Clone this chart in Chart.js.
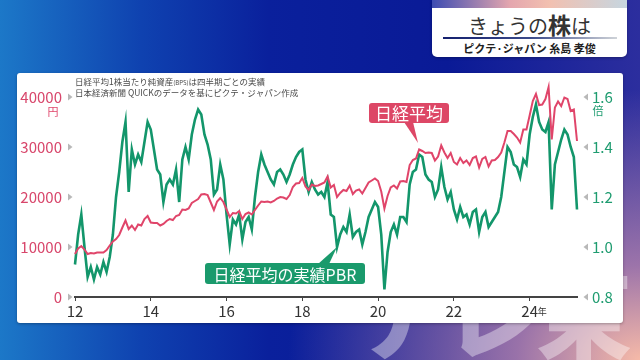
<!DOCTYPE html>
<html lang="ja">
<head>
<meta charset="UTF-8">
<title>きょうの株は - 日経平均と実績PBR</title>
<script src="https://cdn.jsdelivr.net/npm/chart.js"></script>
<style>
  html, body { margin: 0; padding: 0; }
  body {
    width: 640px; height: 360px; overflow: hidden; position: relative;
    font-family: 'Noto Sans CJK JP', 'Noto Sans', sans-serif;
    background:
      radial-gradient(ellipse 55% 75% at 100% 100%, rgba(246,186,168,1) 0%, rgba(176,128,172,0.85) 35%, rgba(60,50,160,0) 100%),
      linear-gradient(90deg, #1c78c8 0%, #0f42b0 22%, #0a209c 42%, #0a1a96 70%, #2c2e9e 100%);
  }
  .mark {
    position: absolute; left: 352px; top: 262px;
    font-size: 96px; font-weight: 900; line-height: 1; letter-spacing: -4px;
    color: rgba(255,255,255,0.38);
  }
  .panel {
    position: absolute; left: 17px; top: 73px; width: 606px; height: 250px;
    background: #fff; border-radius: 3px; box-shadow: 0 1px 3px rgba(0,0,0,0.3);
  }
  .title {
    position: absolute; left: 432px; top: 0; width: 195px; height: 57px;
    background: #fff; border-radius: 0 0 5px 5px; overflow: hidden;
    box-shadow: 0 1px 3px rgba(0,0,0,0.3);
  }
  .title .strip {
    height: 8px;
    background: linear-gradient(90deg, #3d4cb2 0%, #e4a6ae 40%, #f2c0b0 60%, #c6d6e0 100%);
  }
  .title .main {
    position: absolute; top: 11px; width: 100%; text-align: center;
    font-size: 20px; line-height: 26px; color: #333;
  }
  .title .main b { font-size: 23px; }
  .title .rule {
    position: absolute; top: 37px; left: 11px; width: 174px; height: 2px;
    background: linear-gradient(90deg, #14206e 0%, #3a4a8a 50%, #cfd3d8 100%);
  }
  .title .sub {
    position: absolute; top: 40px; width: 100%; text-align: center;
    font-size: 11px; font-weight: 700; line-height: 16px; color: #222;
  }
</style>
</head>
<body>
  <div class="mark">テレ東</div>
  <div class="title">
    <div class="strip"></div>
    <div class="main">きょうの<b>株</b>は</div>
    <div class="rule"></div>
    <div class="sub">ピクテ·ジャパン 糸島 孝俊</div>
  </div>
  <div class="panel">
    <canvas id="chart"></canvas>
  </div>

<script>
// 月次 2012年1月〜2025年4月
const startYear = 2012;
const monthCount = 160;

// 日経平均（円）
const nikkei = [
  8600, 9700, 10200, 9500, 8600, 8800, 8700, 8900, 8900, 8900, 9400, 10300,
  11100, 11600, 12400, 13900, 15300, 13600, 14300, 13400, 14500, 14300, 15600, 16200,
  14900, 14800, 14800, 14300, 14600, 15200, 15600, 15400, 16200, 16400, 17500, 17400,
  17700, 18800, 19200, 19600, 20500, 20600, 20400, 18900, 17400, 19100, 19800, 19000,
  17500, 16000, 16800, 16700, 17200, 15600, 16600, 16900, 16500, 17400, 18300, 19100,
  19000, 19100, 18900, 19200, 19700, 20000, 19900, 19600, 20400, 22000, 22700, 22800,
  23800, 22100, 21400, 22500, 22200, 22300, 22600, 22900, 24100, 21900, 22400, 20000,
  20800, 21400, 21200, 22300, 20600, 21300, 21500, 20700, 21800, 22900, 23300, 23700,
  23200, 21100, 17700, 20200, 21900, 22300, 21700, 23100, 23200, 23000, 26400, 27400,
  27700, 29500, 29200, 28800, 28900, 28800, 27300, 28100, 30300, 28900, 27800, 28800,
  27000, 26500, 27800, 26800, 27300, 26400, 27800, 28100, 25900, 27600, 28000, 26100,
  27300, 27400, 28000, 28900, 30900, 33200, 33200, 32600, 31900, 30900, 33500, 33500,
  36300, 39200, 40600, 38400, 38500, 39600, 42000, 31500, 37900, 39100, 38200, 39900,
  39600, 37200, 37500, 31200
];

// 日経平均の実績PBR（倍）
const pbr = [
  0.93, 1.05, 1.13, 1.00, 0.88, 0.92, 0.87, 0.92, 0.89, 0.94, 0.90, 0.96,
  1.05, 1.20, 1.30, 1.42, 1.50, 1.22, 1.39, 1.33, 1.37, 1.34, 1.42, 1.50,
  1.47, 1.39, 1.31, 1.29, 1.18, 1.25, 1.27, 1.25, 1.31, 1.18, 1.35, 1.40,
  1.35, 1.45, 1.51, 1.55, 1.53, 1.45, 1.41, 1.35, 1.21, 1.23, 1.33, 1.27,
  1.13, 1.01, 1.11, 1.09, 1.13, 1.03, 1.10, 1.12, 1.07, 1.20, 1.30, 1.37,
  1.33, 1.30, 1.27, 1.25, 1.30, 1.31, 1.29, 1.26, 1.29, 1.33, 1.36, 1.38,
  1.39, 1.27, 1.22, 1.26, 1.23, 1.21, 1.22, 1.20, 1.26, 1.13, 1.12, 1.00,
  1.05, 1.08, 1.06, 1.13, 1.04, 1.06, 1.07, 1.01, 1.06, 1.12, 1.15, 1.18,
  1.16, 1.05, 0.83, 0.98, 1.06, 1.09, 1.05, 1.12, 1.12, 1.10, 1.25, 1.30,
  1.31, 1.37, 1.36, 1.29, 1.27, 1.26, 1.20, 1.23, 1.32, 1.24, 1.19, 1.22,
  1.15, 1.11, 1.16, 1.12, 1.13, 1.09, 1.14, 1.15, 1.06, 1.12, 1.14, 1.08,
  1.10, 1.12, 1.14, 1.20, 1.30, 1.40, 1.38, 1.33, 1.32, 1.28, 1.35, 1.33,
  1.45, 1.52, 1.57, 1.50, 1.47, 1.46, 1.50, 1.15, 1.33, 1.38, 1.43, 1.47,
  1.45, 1.40, 1.36, 1.15
];

const tickYears = ['2012', '2014', '2016', '2018', '2020', '2022', '2024'];
const tickLabels = ['12', '14', '16', '18', '20', '22', '24'];
const yenTicks = [0, 10000, 20000, 30000, 40000];
const pbrTicks = [0.8, 1.0, 1.2, 1.4, 1.6];

const months = [];
for (let i = 0; i < monthCount; i++) {
  const y = startYear + Math.floor(i / 12);
  const m = (i % 12) + 1;
  months.push(y + '-' + String(m).padStart(2, '0'));
}

const RED = '#e0456a';
const GREEN = '#13966b';
const FONT = "'Noto Sans CJK JP', 'Noto Sans', sans-serif";
Chart.defaults.font.family = FONT;

function roundRect(ctx, x, y, w, h, r) {
  ctx.beginPath();
  ctx.moveTo(x + r, y);
  ctx.arcTo(x + w, y, x + w, y + h, r);
  ctx.arcTo(x + w, y + h, x, y + h, r);
  ctx.arcTo(x, y + h, x, y, r);
  ctx.arcTo(x, y, x + w, y, r);
  ctx.closePath();
}

function callout(ctx, box, baseY, baseX1, baseX2, tip, color, text, size) {
  ctx.fillStyle = color;
  roundRect(ctx, box.x, box.y, box.w, box.h, 3);
  ctx.fill();
  ctx.beginPath();
  ctx.moveTo(baseX1, baseY);
  ctx.lineTo(tip.x, tip.y);
  ctx.lineTo(baseX2, baseY);
  ctx.closePath();
  ctx.fill();
  ctx.fillStyle = '#fff';
  ctx.font = size + 'px ' + FONT;
  ctx.textAlign = 'center';
  ctx.textBaseline = 'middle';
  ctx.fillText(text, box.x + box.w / 2, box.y + box.h / 2 + 1);
}

const decor = {
  id: 'decor',
  afterDraw(chart) {
    const ctx = chart.ctx;
    const area = chart.chartArea;
    const yl = chart.scales.y;
    const yr = chart.scales.y2;
    const xs = chart.scales.x;
    ctx.save();

    // 目盛りの小さな三角
    ctx.fillStyle = '#b8b8b8';
    yenTicks.forEach(v => {
      const y = yl.getPixelForValue(v);
      ctx.beginPath();
      ctx.moveTo(area.left - 7, y - 3.5);
      ctx.lineTo(area.left - 2.5, y);
      ctx.lineTo(area.left - 7, y + 3.5);
      ctx.fill();
    });
    pbrTicks.forEach(v => {
      const y = yr.getPixelForValue(v);
      ctx.beginPath();
      ctx.moveTo(area.right + 11, y - 3.5);
      ctx.lineTo(area.right + 6.5, y);
      ctx.lineTo(area.right + 11, y + 3.5);
      ctx.fill();
    });

    // 単位
    ctx.font = '11px ' + FONT;
    ctx.textAlign = 'center';
    ctx.textBaseline = 'middle';
    ctx.fillStyle = RED;
    ctx.fillText('円', area.left - 22, yl.getPixelForValue(40000) + 15);
    ctx.fillStyle = '#1f9c70';
    ctx.fillText('倍', area.right + 21, yr.getPixelForValue(1.6) + 14);

    // 「年」
    const x24 = xs.getPixelForValue(months.indexOf('2024-01'));
    ctx.fillStyle = '#333';
    ctx.font = '9px ' + FONT;
    ctx.textAlign = 'left';
    ctx.fillText('年', x24 + 8, area.bottom + 15);

    // 注記
    ctx.fillStyle = '#4a4a4a';
    ctx.textBaseline = 'middle';
    let nx = area.left;
    const ny1 = 9, ny2 = 20;
    ctx.font = '8.5px ' + FONT;
    ctx.fillText('日経平均1株当たり純資産', nx, ny1);
    nx += ctx.measureText('日経平均1株当たり純資産').width;
    ctx.font = '6px ' + FONT;
    ctx.fillText('(BPS)', nx, ny1 + 1);
    nx += ctx.measureText('(BPS)').width;
    ctx.font = '8.5px ' + FONT;
    ctx.fillText('は四半期ごとの実績', nx, ny1);
    ctx.fillText('日本経済新聞 QUICKのデータを基にピクテ・ジャパン作成', area.left, ny2);

    // 吹き出し
    callout(ctx, {x: 352, y: 30, w: 80, h: 20}, 49, 387, 396, {x: 401, y: 70}, '#dd4766', '日経平均', 17);
    callout(ctx, {x: 188, y: 190, w: 160, h: 21}, 191, 301, 312, {x: 320, y: 174}, '#1a9a6c', '日経平均の実績PBR', 16);

    ctx.restore();
  }
};

new Chart(document.getElementById('chart'), {
  type: 'line',
  data: {
    labels: months,
    datasets: [
      {
        label: '日経平均',
        data: nikkei,
        yAxisID: 'y',
        borderColor: RED,
        borderWidth: 2,
        pointRadius: 0,
        tension: 0,
        clip: false,
        order: 0
      },
      {
        label: '日経平均の実績PBR',
        data: pbr,
        yAxisID: 'y2',
        borderColor: GREEN,
        borderWidth: 2.6,
        pointRadius: 0,
        tension: 0,
        clip: false,
        order: 1
      }
    ]
  },
  options: {
    responsive: true,
    maintainAspectRatio: false,
    animation: false,
    layout: { padding: { top: 20, left: 0, right: 0, bottom: 0 } },
    plugins: { legend: { display: false }, tooltip: { enabled: false } },
    scales: {
      x: {
        grid: { display: true, drawOnChartArea: false, drawTicks: true, tickLength: 4, color: '#444', lineWidth: 1 },
        border: { display: true, color: '#444', width: 2 },
        ticks: {
          autoSkip: false,
          maxRotation: 0,
          padding: 1,
          color: '#333',
          font: { size: 15 },
          callback: (val, i) => {
            const lab = months[i];
            if (!lab.endsWith('-01')) return null;
            const k = tickYears.indexOf(lab.slice(0, 4));
            return k >= 0 ? tickLabels[k] : null;
          }
        },
        afterFit: s => { s.height = 26; }
      },
      y: {
        position: 'left',
        min: 0,
        max: 40000,
        grid: { display: false, drawTicks: false },
        border: { display: false },
        ticks: {
          stepSize: 10000, padding: 13, color: '#d8466b', font: { size: 15 },
          callback: v => String(v)
        },
        afterFit: s => { s.width = 58; }
      },
      y2: {
        position: 'right',
        min: 0.8,
        max: 1.6,
        grid: { display: false, drawTicks: false },
        border: { display: false },
        ticks: {
          stepSize: 0.2, padding: 15, color: '#1f9c70', font: { size: 15 },
          callback: v => Number(v).toFixed(1)
        },
        afterFit: s => { s.width = 46; }
      }
    }
  },
  plugins: [decor]
});
</script>
</body>
</html>
